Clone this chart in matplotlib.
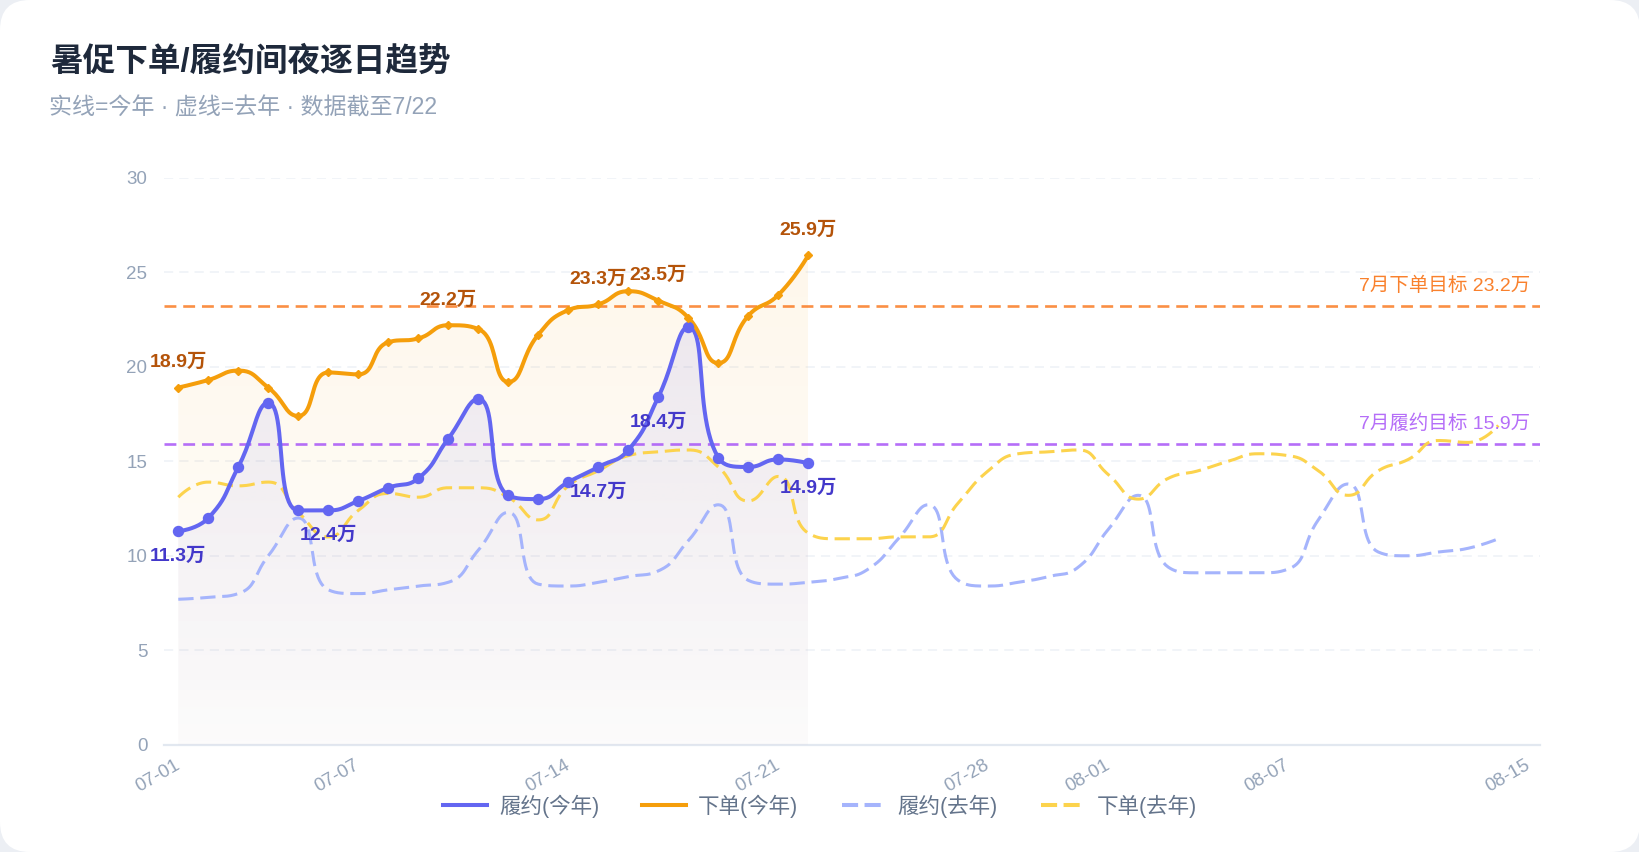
import numpy as np
import matplotlib
matplotlib.use("Agg")
import matplotlib.pyplot as plt
from matplotlib.patches import FancyBboxPatch, Polygon
from matplotlib.lines import Line2D
from matplotlib.colors import to_rgb
import matplotlib.transforms as mtransforms

plt.rcParams['font.family'] = ['Liberation Sans', 'Noto Sans CJK SC', 'DejaVu Sans']

# ---------------- data ----------------
title = "暑促下单/履约间夜逐日趋势"
subtitle = "实线=今年 · 虚线=去年 · 数据截至7/22"

tick_days = [0, 6, 13, 20, 27, 31, 37, 45]
tick_labels = ["07-01", "07-07", "07-14", "07-21", "07-28", "08-01", "08-07", "08-15"]

fulfill_this = [11.3, 12.0, 14.7, 18.1, 12.4, 12.4, 12.9, 13.6, 14.1, 16.2, 18.3,
                13.2, 13.0, 13.9, 14.7, 15.6, 18.4, 22.1, 15.2, 14.7, 15.1, 14.9]
orders_this = [18.9, 19.3, 19.8, 18.9, 17.4, 19.7, 19.6, 21.3, 21.5, 22.2, 22.0,
               19.2, 21.7, 23.0, 23.3, 24.0, 23.5, 22.6, 20.2, 22.7, 23.8, 25.9]
fulfill_last = [7.7, 7.8, 8.0, 10.0, 12.0, 8.2, 8.0, 8.2, 8.4, 8.6, 10.3, 12.3,
                8.5, 8.4, 8.6, 8.9, 9.2, 10.8, 12.7, 8.7, 8.5, 8.6, 8.8, 9.3,
                10.9, 12.7, 8.7, 8.4, 8.6, 8.9, 9.4, 11.4, 13.2, 9.4, 9.1, 9.1,
                9.1, 9.3, 11.9, 13.8, 10.2, 10.0, 10.2, 10.4, 10.9]
orders_last = [13.1, 13.9, 13.7, 13.9, 12.3, 11.0, 12.4, 13.3, 13.1, 13.6, 13.6,
               13.1, 11.9, 13.7, 14.5, 15.3, 15.5, 15.6, 14.7, 12.9, 14.2, 11.2,
               10.9, 10.9, 11.0, 11.0, 12.8, 14.5, 15.4, 15.5, 15.6, 14.3, 13.0,
               14.1, 14.5, 15.0, 15.4, 15.3, 14.5, 13.2, 14.5, 15.1, 16.1, 16.0, 16.9]

orders_target = 23.2
fulfill_target = 15.9
orders_label_idx = [0, 9, 14, 16, 21]
fulfill_label_idx = [0, 5, 14, 16, 21]

series_names = ["履约(今年)", "下单(今年)", "履约(去年)", "下单(去年)"]

# ---------------- helpers ----------------
SX, SY = 30.0, 18.9  # px per day / px per unit


def echarts_smooth(xd, yd, smooth=0.5, nseg=24):
    P = np.column_stack([np.asarray(xd, float) * SX, np.asarray(yd, float) * SY])
    n = len(P)
    out = [P[0]]
    cp0 = P[0].copy()
    for i in range(1, n):
        x, y = P[i]
        px, py = P[i - 1]
        nxt = None
        if i == n - 1:
            cp1 = P[i].copy()
        else:
            nx, ny = P[i + 1]
            vx, vy = nx - px, ny - py
            lp = max(np.hypot(x - px, y - py), 1e-9)
            ln = max(np.hypot(nx - x, ny - y), 1e-9)
            r = ln / (ln + lp)
            ncx = x + vx * smooth * r
            ncy = y + vy * smooth * r
            ncx = max(min(ncx, max(nx, x)), min(nx, x))
            ncy = max(min(ncy, max(ny, y)), min(ny, y))
            vx, vy = ncx - x, ncy - y
            c1x = x - vx * lp / ln
            c1y = y - vy * lp / ln
            c1x = max(min(c1x, max(px, x)), min(px, x))
            c1y = max(min(c1y, max(py, y)), min(py, y))
            vx, vy = x - c1x, y - c1y
            ncx = x + vx * ln / lp
            ncy = y + vy * ln / lp
            cp1 = np.array([c1x, c1y])
            nxt = np.array([ncx, ncy])
        t = np.linspace(0, 1, nseg)[1:, None]
        seg = ((1 - t) ** 3) * P[i - 1] + 3 * ((1 - t) ** 2) * t * cp0 + \
            3 * (1 - t) * (t ** 2) * cp1 + (t ** 3) * P[i]
        out.extend(seg)
        if nxt is not None:
            cp0 = nxt
    out = np.array(out)
    return out[:, 0] / SX, out[:, 1] / SY


def gradient_fill(ax, xs, ys, color, a_top, a_bot, zorder):
    verts = [(xs[0], 0)] + list(zip(xs, ys)) + [(xs[-1], 0)]
    poly = Polygon(verts, closed=True, facecolor='none', edgecolor='none')
    ax.add_patch(poly)
    ymax = float(np.max(ys))
    grad = np.zeros((256, 1, 4))
    grad[..., :3] = to_rgb(color)
    grad[:, 0, 3] = np.linspace(a_top, a_bot, 256)
    im = ax.imshow(grad, aspect='auto', extent=[xs[0], xs[-1], 0, ymax],
                   origin='upper', zorder=zorder, interpolation='bilinear')
    im.set_clip_path(poly)


# ---------------- figure ----------------
W, H = 1640, 852
fig = plt.figure(figsize=(W / 100, H / 100), dpi=100)
fig.patch.set_facecolor('#eceff4')
card = FancyBboxPatch((0, 0), W, H, boxstyle='round,pad=0,rounding_size=30',
                      transform=mtransforms.IdentityTransform(),
                      facecolor='white', edgecolor='none', zorder=0)
fig.add_artist(card)

fig.text(50 / W, 1 - 62 / H, title, fontsize=23.5, fontweight='bold',
         color='#1e293b', va='center', ha='left')
fig.text(49 / W, 1 - 108 / H, subtitle, fontsize=16.6, color='#94a3b8',
         va='center', ha='left')

ax_left, ax_right = 164, 1540
ax_bottom, ax_top = 744.8, 177.8
ax = fig.add_axes([ax_left / W, (H - ax_bottom) / H, (ax_right - ax_left) / W,
                   (ax_bottom - ax_top) / H])
ax.set_facecolor('none')
for s in ax.spines.values():
    s.set_visible(False)

x0 = 178.3
xlim = ((ax_left - x0) / SX, (ax_right - x0) / SX)

days_this = np.arange(len(fulfill_this))
days_last = np.arange(len(fulfill_last))

# grid
for yv in [5, 10, 15, 20, 25, 30]:
    ax.axhline(yv, color='#edf1f6', lw=1.1, ls=(0, (6, 4)), zorder=1)
ax.axhline(0, color='#e2e8f0', lw=1.6, zorder=2, clip_on=False)

# fills
ox, oy = echarts_smooth(days_this, orders_this, 0.5)
fx, fy = echarts_smooth(days_this, fulfill_this, 0.5)
gradient_fill(ax, ox, oy, '#f59e0b', 0.08, 0.015, 2)
gradient_fill(ax, fx, fy, '#6366f1', 0.11, 0.015, 3)

# target lines
ax.axhline(orders_target, color='#f97316', alpha=0.8, lw=1.9, ls=(0, (4.5, 2.6)), zorder=4)
ax.axhline(fulfill_target, color='#a855f7', alpha=0.85, lw=1.9, ls=(0, (4.5, 2.6)), zorder=4)
btrans = mtransforms.blended_transform_factory(ax.transAxes, ax.transData)
ax.annotate(f"7月下单目标 {orders_target}万", (0.9927, orders_target), xycoords=btrans,
            xytext=(0, 15), textcoords='offset points', ha='right', va='center',
            fontsize=14, color='#f97316', alpha=0.9, zorder=8)
ax.annotate(f"7月履约目标 {fulfill_target}万", (0.9927, fulfill_target), xycoords=btrans,
            xytext=(0, 15), textcoords='offset points', ha='right', va='center',
            fontsize=14, color='#a855f7', alpha=0.85, zorder=8)

# last year dashed
lx, ly = echarts_smooth(days_last, fulfill_last, 0.5)
ax.plot(lx, ly, color='#a5b4fc', lw=2.2, ls=(0, (5, 2.2)), zorder=5)
lx2, ly2 = echarts_smooth(days_last, orders_last, 0.5)
ax.plot(lx2, ly2, color='#fcd34d', lw=2.2, ls=(0, (5, 2.2)), zorder=5)

# this year lines
ax.plot(fx, fy, color='#6366f1', lw=2.9, zorder=6, solid_capstyle='round')
ax.plot(days_this, fulfill_this, ls='none', marker='o', ms=7.2, color='#6366f1', zorder=7)
ax.plot(ox, oy, color='#f59e0b', lw=2.9, zorder=6, solid_capstyle='round')
ax.plot(days_this, orders_this, ls='none', marker='D', ms=4.2, color='#f59e0b', zorder=7)

# value labels
for i in orders_label_idx:
    ax.annotate(f"{orders_this[i]}万", (days_this[i], orders_this[i]), xytext=(0, 18),
                textcoords='offset points', ha='center', va='center', fontsize=14,
                fontweight='bold', color='#b45309', zorder=9)
for i in fulfill_label_idx:
    ax.annotate(f"{fulfill_this[i]}万", (days_this[i], fulfill_this[i]), xytext=(0, -18),
                textcoords='offset points', ha='center', va='center', fontsize=14,
                fontweight='bold', color='#4338ca', zorder=9)

ax.set_xlim(*xlim)
ax.set_ylim(0, 30)
ax.set_yticks([0, 5, 10, 15, 20, 25, 30])
ax.set_yticklabels(["0", "5", "10", "15", "20", "25", "30"])
ax.set_xticks(tick_days)
ax.set_xticklabels(tick_labels)
ax.tick_params(axis='y', length=0, pad=12, labelsize=13.5, labelcolor='#94a3b8')
ax.tick_params(axis='x', length=0, pad=14, labelsize=13.5, labelcolor='#94a3b8')
for lab in ax.get_xticklabels():
    lab.set_rotation(30)
    lab.set_ha('right')
    lab.set_va('center')
    lab.set_rotation_mode('anchor')

handles = [
    Line2D([], [], color='#6366f1', lw=2.9),
    Line2D([], [], color='#f59e0b', lw=2.9),
    Line2D([], [], color='#a5b4fc', lw=2.9, ls=(0, (4, 1.6))),
    Line2D([], [], color='#fcd34d', lw=2.9, ls=(0, (4, 1.6))),
]
leg = fig.legend(handles, series_names, loc='center', bbox_to_anchor=(0.5, 1 - 806 / H),
                 ncol=4, frameon=False, fontsize=15.5, handlelength=2.05,
                 handletextpad=0.55, columnspacing=2.0)
for t in leg.get_texts():
    t.set_color('#64748b')

fig.savefig("out.png", dpi=100, facecolor=fig.get_facecolor())
